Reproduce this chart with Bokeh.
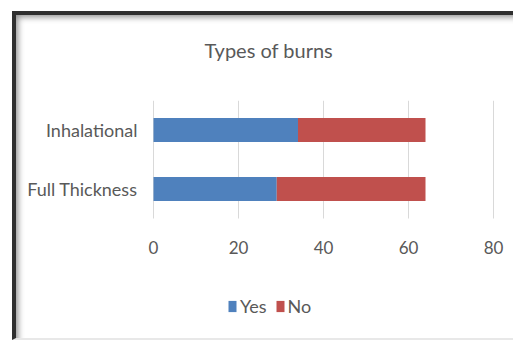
from bokeh.plotting import figure
from bokeh.models import Range1d, Legend, LegendItem, Title, FixedTicker
from bokeh.embed import file_html
from bokeh.resources import INLINE

# Burn types and counts
categories = ["Full Thickness", "Inhalational"]
yes_counts = [29, 34]
no_counts = [35, 30]
series = ["Yes", "No"]
colors = ["#4F81BD", "#C0504D"]
x_ticks = [0, 20, 40, 60, 80]

FONT = "Lato"
TEXT = "#595959"

W, H = 497, 323            # drawing area inside the dark window edge
PX = 4.25                  # pixels per unit on the value axis
PAD_L, PAD_R = 7, 12       # room beside 0 and 80 for their tick labels
FL, FT = 130, 85           # frame left / top in canvas pixels
FW = round(80 * PX) + PAD_L + PAD_R
FH = H - FT                # frame runs down to the bottom edge
BAND = 59                  # pixels per category row

n = len(categories)
pos = list(range(n))
below_rows = (FH - n * BAND) / BAND   # room under the bars (tick labels, legend)

p = figure(width=W, height=H,
           x_range=Range1d(-PAD_L / PX, x_ticks[-1] + PAD_R / PX),
           y_range=Range1d(-0.5 - below_rows, n - 0.5), output_backend="svg",
           toolbar_location=None, min_border_left=FL, min_border_top=FT,
           min_border_right=W - FL - FW, min_border_bottom=0,
           frame_width=FW, frame_height=FH, title=None)
p.outline_line_color = None
p.background_fill_color = "white"
p.border_fill_color = None
p.styles = {
    "margin-left": "12px",
    "margin-top": "11px",
    "border-top": "4px solid #2f2f2f",
    "border-left": "4px solid #2f2f2f",
    "border-bottom": "2px solid #e8e8e8",
    "background-color": "white",
    "box-shadow": "inset 5px 5px 6px -3px rgba(0,0,0,0.45)",
}

# vertical gridlines, only across the category rows
p.xgrid.grid_line_color = None
p.ygrid.grid_line_color = None
p.segment(x0=x_ticks, x1=x_ticks, y0=-0.5, y1=n - 0.5,
          line_color="#D9D9D9", line_width=1, level="underlay")

data = {"pos": pos, "Yes": yes_counts, "No": no_counts}
r = p.hbar_stack(series, y="pos", height=0.41, color=colors, source=data,
                 line_color=None)

# x axis sits right under the rows
p.xaxis.fixed_location = -0.5
p.xaxis.ticker = FixedTicker(ticks=x_ticks)
p.xaxis.axis_line_color = None
p.xaxis.major_tick_line_color = None
p.xaxis.minor_tick_line_color = None
p.xaxis.major_label_text_font = FONT
p.xaxis.major_label_text_font_size = "17px"
p.xaxis.major_label_text_color = TEXT
p.xaxis.major_label_standoff = 16

# category labels
p.yaxis.ticker = FixedTicker(ticks=pos)
p.yaxis.major_label_overrides = {i: c for i, c in zip(pos, categories)}
p.yaxis.axis_line_color = None
p.yaxis.major_tick_line_color = None
p.yaxis.minor_tick_line_color = None
p.yaxis.major_label_text_font = FONT
p.yaxis.major_label_text_font_size = "18px"
p.yaxis.major_label_text_color = TEXT
p.yaxis.major_label_standoff = 3

# title, lifted off the frame by a blank spacer line
p.add_layout(Title(text=" ", text_font=FONT, text_font_size="18px"), "above")
p.add_layout(Title(text="Types of burns", align="left", offset=58,
                   text_font=FONT, text_font_size="20px",
                   text_font_style="normal", text_color=TEXT), "above")

# legend under the axis
legend = Legend(items=[LegendItem(label=s, renderers=[rr]) for s, rr in zip(series, r)],
                orientation="horizontal", location=(81, 21),
                glyph_width=10, glyph_height=14, label_height=14,
                label_standoff=3, spacing=8, padding=0, margin=0,
                border_line_color=None, background_fill_alpha=0,
                label_text_font=FONT, label_text_font_size="18px",
                label_text_color=TEXT, label_text_baseline="middle")
p.add_layout(legend, "center")

open("out.html", "w").write(file_html(p, INLINE))
